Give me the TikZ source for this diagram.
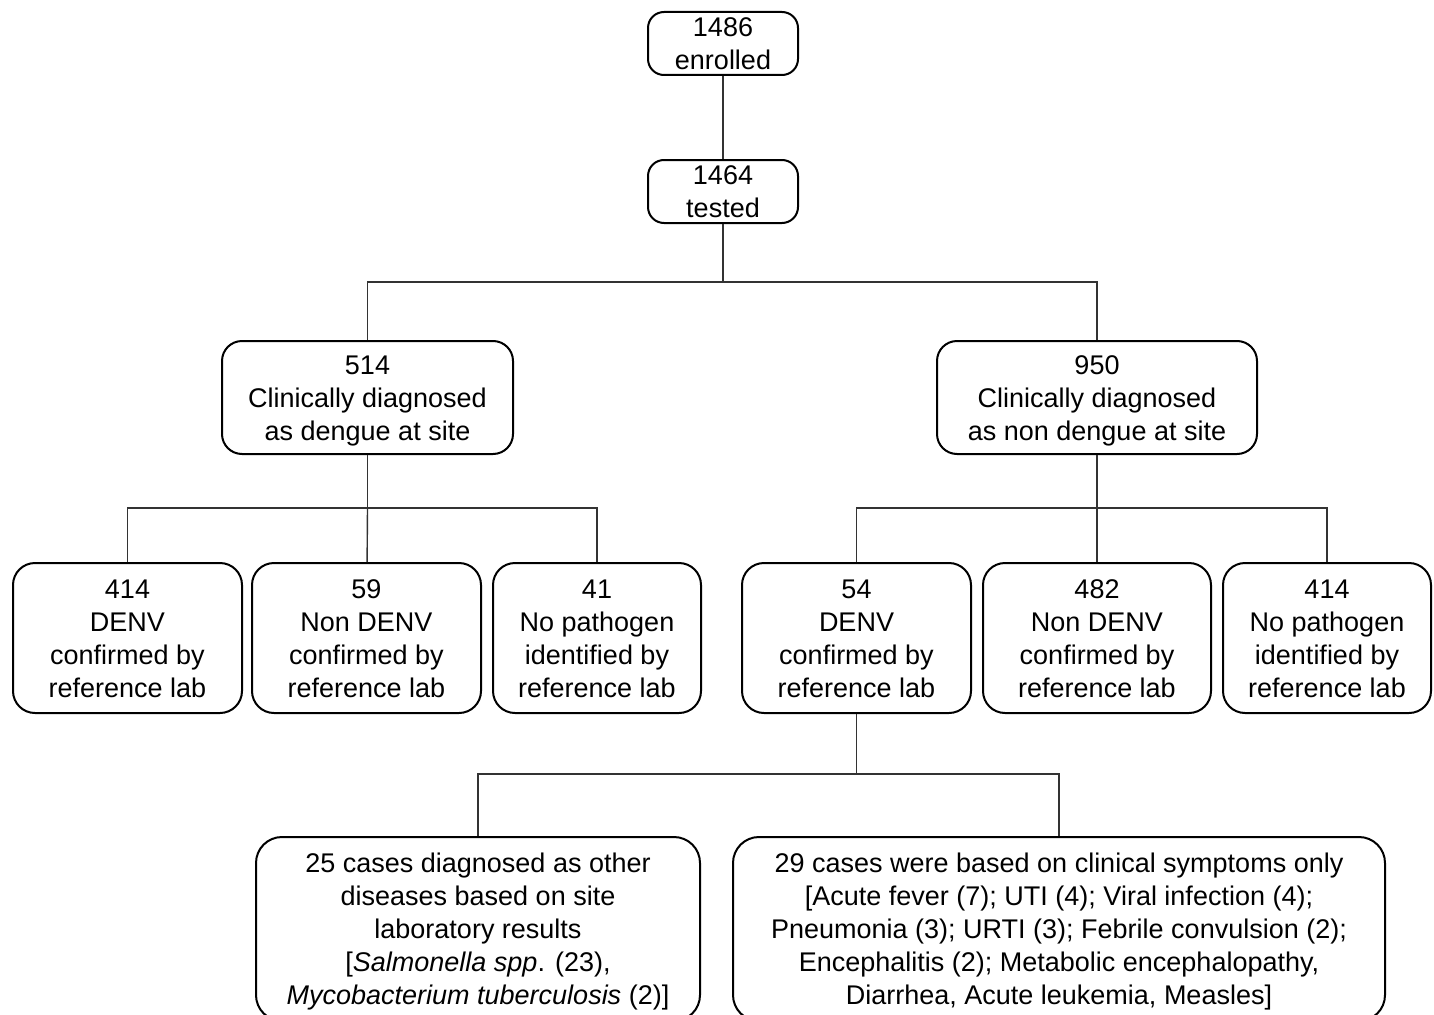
\documentclass[tikz,border=0pt]{standalone}
\usepackage{fontspec}
\setmainfont{Liberation Sans}
\newcommand{\boxtext}[1]{\raisebox{-3pt}[\dimexpr\height-2pt\relax][\dimexpr\depth-2pt\relax]{\begin{tabular}{@{}c@{}}#1\end{tabular}}}
\begin{document}
\begin{tikzpicture}[x=1pt,y=-1pt,
  box/.style={draw=black,line width=2pt,rounded corners=16pt,align=center,
    font=\fontsize{27}{33}\selectfont,inner sep=0pt},
  conn/.style={draw=black!80,line width=1.4pt}]
\useasboundingbox[fill=white] (0,0) rectangle (1434,1014);
\node[box,minimum width=150pt,minimum height=63pt] (enr) at (723,43.5) {\boxtext{1486\\enrolled}};
\node[box,minimum width=150pt,minimum height=63pt] (tst) at (723,191.5) {\boxtext{1464\\tested}};
\node[box,minimum width=291pt,minimum height=113pt,rounded corners=20pt] (d514) at (367.5,397.5) {\boxtext{514\\Clinically diagnosed\\as dengue at site}};
\node[box,minimum width=320pt,minimum height=113pt,rounded corners=20pt] (d950) at (1097,397.5) {\boxtext{950\\Clinically diagnosed\\as non dengue at site}};
\node[box,minimum width=229pt,minimum height=150pt,rounded corners=22pt] (b1) at (127.5,638) {\boxtext{414\\DENV\\confirmed by\\reference lab}};
\node[box,minimum width=229pt,minimum height=150pt,rounded corners=22pt] (b2) at (366.5,638) {\boxtext{59\\Non DENV\\confirmed by\\reference lab}};
\node[box,minimum width=208pt,minimum height=150pt,rounded corners=22pt] (b3) at (597,638) {\boxtext{41\\No pathogen\\identified by\\reference lab}};
\node[box,minimum width=229pt,minimum height=150pt,rounded corners=22pt] (b4) at (856.5,638) {\boxtext{54\\DENV\\confirmed by\\reference lab}};
\node[box,minimum width=228pt,minimum height=150pt,rounded corners=22pt] (b5) at (1097,638) {\boxtext{482\\Non DENV\\confirmed by\\reference lab}};
\node[box,minimum width=208pt,minimum height=150pt,rounded corners=22pt] (b6) at (1327,638) {\boxtext{414\\No pathogen\\identified by\\reference lab}};
\node[box,minimum width=444pt,minimum height=184pt,rounded corners=26pt] (b7) at (478,929) {\boxtext{25 cases diagnosed as other\\diseases based on site\\laboratory results\\{[}\textit{Salmonella spp}. (23),\\\textit{Mycobacterium tuberculosis} (2)]}};
\node[box,minimum width=652pt,minimum height=184pt,rounded corners=26pt] (b8) at (1059,929) {\boxtext{29 cases were based on clinical symptoms only\\{[}Acute fever (7); UTI (4); Viral infection (4);\\Pneumonia (3); URTI (3); Febrile convulsion (2);\\Encephalitis (2); Metabolic encephalopathy,\\Diarrhea, Acute leukemia, Measles]}};
\coordinate (j1) at (723,282);
\coordinate (j2) at (367.5,508);
\coordinate (j3) at (1097,508);
\coordinate (j4) at (856.5,774);
\draw[conn] (enr) -- (tst);
\draw[conn] (tst) -- (j1);
\draw[conn] (j1) -| (d514);
\draw[conn] (j1) -| (d950);
\draw[conn] (d514) -- (j2);
\draw[conn] (j2) -| (b1);
\draw[conn] (j2) -- (b2);
\draw[conn] (j2) -| (b3);
\draw[conn] (d950) -- (j3);
\draw[conn] (j3) -| (b4);
\draw[conn] (j3) -- (b5);
\draw[conn] (j3) -| (b6);
\draw[conn] (b4) -- (j4);
\draw[conn] (j4) -| (b7);
\draw[conn] (j4) -| (b8);
\end{tikzpicture}
\end{document}
